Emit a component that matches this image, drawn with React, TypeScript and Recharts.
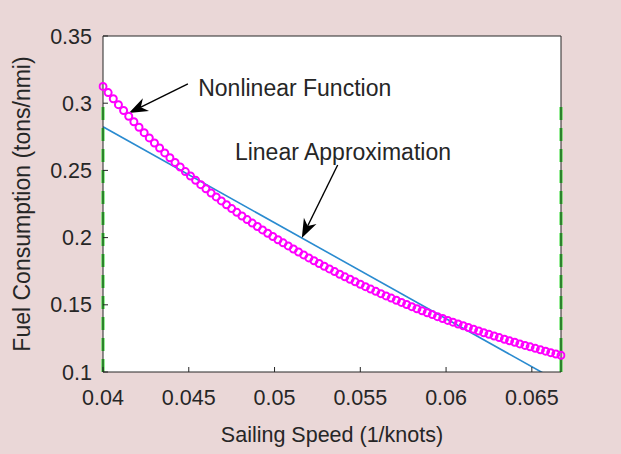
import { ComposedChart, Line, XAxis, YAxis, CartesianGrid, ReferenceLine, ReferenceDot } from 'recharts';

// sailing speed axis is in 1/knots, fuel in tons per nautical mile
const pace = [
  0.04, 0.0403, 0.0406, 0.0409, 0.0412, 0.0415, 0.0418, 0.0421, 0.0424, 0.0427,
  0.043, 0.0433, 0.0436, 0.0439, 0.0442, 0.0445, 0.0448, 0.0451, 0.0454, 0.0457,
  0.046, 0.0463, 0.0466, 0.0469, 0.0472, 0.0475, 0.0478, 0.0481, 0.0484, 0.0487,
  0.049, 0.0493, 0.0496, 0.0499, 0.0502, 0.0505, 0.0508, 0.0511, 0.0514, 0.0517,
  0.052, 0.0523, 0.0526, 0.0529, 0.0532, 0.0535, 0.0538, 0.0541, 0.0544, 0.0547,
  0.055, 0.0553, 0.0556, 0.0559, 0.0562, 0.0565, 0.0568, 0.0571, 0.0574, 0.0577,
  0.058, 0.0583, 0.0586, 0.0589, 0.0592, 0.0595, 0.0598, 0.0601, 0.0604, 0.0607,
  0.061, 0.0613, 0.0616, 0.0619, 0.0622, 0.0625, 0.0628, 0.0631, 0.0634, 0.0637,
  0.064, 0.0643, 0.0646, 0.0649, 0.0652, 0.0655, 0.0658, 0.0661, 0.0664, 0.0667,
];
const fuelNonlinear = [
  0.3125, 0.3079, 0.3033, 0.2989, 0.2946, 0.2903, 0.2862, 0.2821, 0.2781, 0.2742,
  0.2704, 0.2667, 0.263, 0.2594, 0.2559, 0.2525, 0.2491, 0.2458, 0.2426, 0.2394,
  0.2363, 0.2332, 0.2303, 0.2273, 0.2244, 0.2216, 0.2188, 0.2161, 0.2134, 0.2108,
  0.2083, 0.2057, 0.2032, 0.2008, 0.1984, 0.1961, 0.1938, 0.1915, 0.1893, 0.1871,
  0.1849, 0.1828, 0.1807, 0.1787, 0.1767, 0.1747, 0.1727, 0.1708, 0.169, 0.1671,
  0.1653, 0.1635, 0.1617, 0.16, 0.1583, 0.1566, 0.155, 0.1534, 0.1518, 0.1502,
  0.1486, 0.1471, 0.1456, 0.1441, 0.1427, 0.1412, 0.1398, 0.1384, 0.1371, 0.1357,
  0.1344, 0.1331, 0.1318, 0.1305, 0.1292, 0.128, 0.1268, 0.1256, 0.1244, 0.1232,
  0.1221, 0.1209, 0.1198, 0.1187, 0.1176, 0.1165, 0.1155, 0.1144, 0.1134, 0.1124,
];

const linearPace = [0.04, 0.0667];
const linearFuel = [0.2825, 0.0918];

const boundPace = [0.04, 0.0667];
const boundFuel = [0.1, 0.3];

const xTicks = [0.04, 0.045, 0.05, 0.055, 0.06, 0.065];
const yTicks = [0.1, 0.15, 0.2, 0.25, 0.3, 0.35];

// annotations: [text x, text y] and arrow [from x, from y, to x, to y]
const notes = [
  { text: 'Nonlinear Function', at: [0.04555, 0.3113], arrow: [0.04495, 0.3143, 0.04151, 0.2927] },
  { text: 'Linear Approximation', at: [0.04769, 0.2637], arrow: [0.05368, 0.254, 0.05159, 0.1997] },
];

const nonlinearData = pace.map((x, i) => ({ x, y: fuelNonlinear[i] }));
const linearData = linearPace.map((x, i) => ({ x, y: linearFuel[i] }));

const FONT = '"Liberation Sans", Arial, Helvetica, sans-serif';
const INK = '#262626';
const tickStyle = { fill: INK, fontSize: 21.5, fontFamily: FONT };

function Arrow(p: any) {
  const { x1, y1, x2, y2 } = p;
  const a = Math.atan2(y2 - y1, x2 - x1);
  const len = 19;
  const half = 7;
  const cx = Math.cos(a);
  const sy = Math.sin(a);
  const bx = x2 - len * cx;
  const by = y2 - len * sy;
  const nx = bx + len * 0.3 * cx;
  const ny = by + len * 0.3 * sy;
  const pts = `${x2},${y2} ${bx - sy * half},${by + cx * half} ${nx},${ny} ${bx + sy * half},${by - cx * half}`;
  return (
    <g>
      <line x1={x1} y1={y1} x2={nx} y2={ny} stroke="#000" strokeWidth={1.4} />
      <polygon points={pts} fill="#000" />
    </g>
  );
}

export default function App() {
  return (
    <div style={{ position: 'absolute', left: 0, top: 0, width: 621, height: 454, background: '#ead7d7' }}>
      <ComposedChart width={621} height={454} margin={{ top: 36, right: 60, bottom: 0, left: 0 }}>
        <CartesianGrid fill="#fff" horizontal={false} vertical={false} />
        <XAxis
          type="number"
          dataKey="x"
          domain={[0.04, 0.0667]}
          ticks={xTicks}
          allowDataOverflow
          height={82}
          tickSize={-5}
          tickMargin={23}
          tick={tickStyle}
          tickLine={{ stroke: INK }}
          axisLine={{ stroke: INK }}
          tickFormatter={(v: number) => String(v)}
          label={{ value: 'Sailing Speed (1/knots)', position: 'insideBottom', offset: 12, fill: INK, fontSize: 21.5, fontFamily: FONT }}
        />
        <XAxis
          xAxisId="top"
          orientation="top"
          type="number"
          dataKey="x"
          domain={[0.04, 0.0667]}
          ticks={xTicks}
          allowDataOverflow
          mirror
          tick={false}
          tickSize={5}
          tickLine={{ stroke: INK }}
          axisLine={{ stroke: INK }}
        />
        <YAxis
          type="number"
          domain={[0.1, 0.35]}
          ticks={yTicks}
          allowDataOverflow
          width={103}
          tickSize={-5}
          tickMargin={16}
          tick={tickStyle}
          tickLine={{ stroke: INK }}
          axisLine={{ stroke: INK }}
          tickFormatter={(v: number) => String(v)}
          label={{
            value: 'Fuel Consumption (tons/nmi)',
            angle: -90,
            position: 'insideLeft',
            offset: 22,
            fill: INK,
            fontSize: 23,
            fontFamily: FONT,
            style: { textAnchor: 'middle' },
          }}
        />
        <YAxis
          yAxisId="right"
          orientation="right"
          type="number"
          domain={[0.1, 0.35]}
          ticks={yTicks}
          allowDataOverflow
          mirror
          tick={false}
          tickSize={5}
          tickLine={{ stroke: INK }}
          axisLine={{ stroke: INK }}
        />
        <ReferenceLine
          segment={[{ x: boundPace[0], y: boundFuel[0] }, { x: boundPace[0], y: boundFuel[1] }]}
          stroke="#33dd33"
          strokeWidth={3}
          strokeDasharray="13 8"
          ifOverflow="visible"
        />
        <ReferenceLine
          segment={[{ x: boundPace[1], y: boundFuel[0] }, { x: boundPace[1], y: boundFuel[1] }]}
          stroke="#33dd33"
          strokeWidth={3}
          strokeDasharray="13 8"
          ifOverflow="visible"
        />
        <Line
          data={linearData}
          dataKey="y"
          stroke="#2a8bd0"
          strokeWidth={1.6}
          dot={false}
          isAnimationActive={false}
        />
        <Line
          data={nonlinearData}
          dataKey="y"
          stroke="none"
          dot={{ r: 3.5, stroke: '#ff00ff', strokeWidth: 2, fill: 'none', clipDot: false }}
          activeDot={false}
          isAnimationActive={false}
        />
        {notes.map((n) => (
          <ReferenceLine
            key={n.text + '-arrow'}
            segment={[{ x: n.arrow[0], y: n.arrow[1] }, { x: n.arrow[2], y: n.arrow[3] }]}
            shape={Arrow}
            ifOverflow="visible"
          />
        ))}
        {notes.map((n) => (
          <ReferenceDot
            key={n.text}
            x={n.at[0]}
            y={n.at[1]}
            r={0}
            stroke="none"
            fill="none"
            ifOverflow="visible"
            label={{ value: n.text, position: 'right', offset: 0, fill: INK, fontSize: 23, fontFamily: FONT }}
          />
        ))}
      </ComposedChart>
    </div>
  );
}
